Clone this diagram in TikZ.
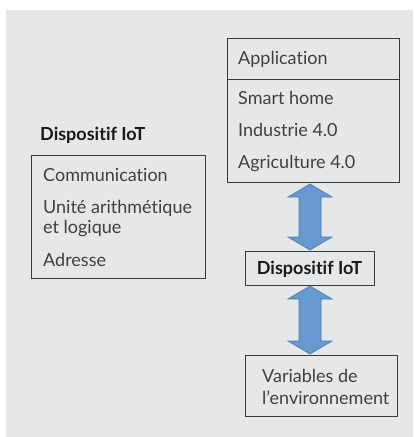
\documentclass[tikz,border=0pt]{standalone}
\usepackage{fontspec}
\setmainfont{Lato}[Ligatures=NoCommon]
\usetikzlibrary{calc}
\definecolor{bg}{HTML}{E6E7E8}
\definecolor{boxline}{HTML}{3A3A3A}
\definecolor{txt}{HTML}{404040}
\definecolor{arrowfill}{HTML}{6699D0}
\definecolor{arrowline}{HTML}{4F7FB8}
\tikzset{
  box/.style={draw=boxline, line width=0.9pt, anchor=north west, inner sep=0pt},
  item/.style={anchor=base west, inner sep=0pt, text=txt, font=\fontsize{18}{21}\selectfont},
  title/.style={anchor=base west, inner sep=0pt, text=black!90, font=\bfseries\fontsize{18}{21}\selectfont},
  dbl/.style={fill=arrowfill, draw=arrowline, line width=0.7pt, line join=miter}
}
\begin{document}
\begin{tikzpicture}[x=1pt,y=-1pt]
\useasboundingbox (0,0) rectangle (413,437);
\fill[bg] (6,10) rectangle (413,437);
% Application box
\node[box, minimum width=172pt, minimum height=144pt] (app) at (227,38) {};
\coordinate (appdivL) at (227,79);
\coordinate (appdivR) at (399,79);
\draw[boxline, line width=0.9pt] (appdivL) -- (appdivR);
\node[item] (t1) at (238,64) {Application};
\node[item] (t2) at (238,104) {Smart home};
\node[item] (t3) at (238,136) {Industrie 4.0};
\node[item] (t4) at (238,168) {Agriculture 4.0};
% Left box
\node[title] (lt) at (40,140) {Dispositif IoT};
\node[box, minimum width=174pt, minimum height=123pt] (left) at (31,155) {};
\node[item] (l1) at (43,181) {Communication};
\node[item] (l2) at (43,213) {Unité arithmétique};
\node[item] (l3) at (43,233) {et logique};
\node[item] (l4) at (43,266) {Adresse};
% Middle box
\node[box, minimum width=129pt, minimum height=34pt] (mid) at (245,251) {};
\node[title, anchor=base] (mt) at (309.5,274) {Dispositif IoT};
% Bottom box
\node[box, minimum width=152pt, minimum height=61pt] (env) at (245,355) {};
\node[item] (e1) at (262,382) {Variables de};
\node[item] (e2) at (262,404) {l{\char"0027}environnement};
% Arrows
\coordinate (a1t) at (310,184);
\coordinate (a1b) at (310,250);
\draw[dbl] (a1t) -- ++(-22,13) -- ++(11,0) -- ++(0,40) -- ++(-11,0) -- (a1b)
  -- ++(22,-13) -- ++(-11,0) -- ++(0,-40) -- ++(11,0) -- cycle;
\coordinate (a2t) at (310,286);
\coordinate (a2b) at (310,354);
\draw[dbl] (a2t) -- ++(-22,13) -- ++(11,0) -- ++(0,42) -- ++(-11,0) -- (a2b)
  -- ++(22,-13) -- ++(-11,0) -- ++(0,-42) -- ++(11,0) -- cycle;
\end{tikzpicture}
\end{document}
